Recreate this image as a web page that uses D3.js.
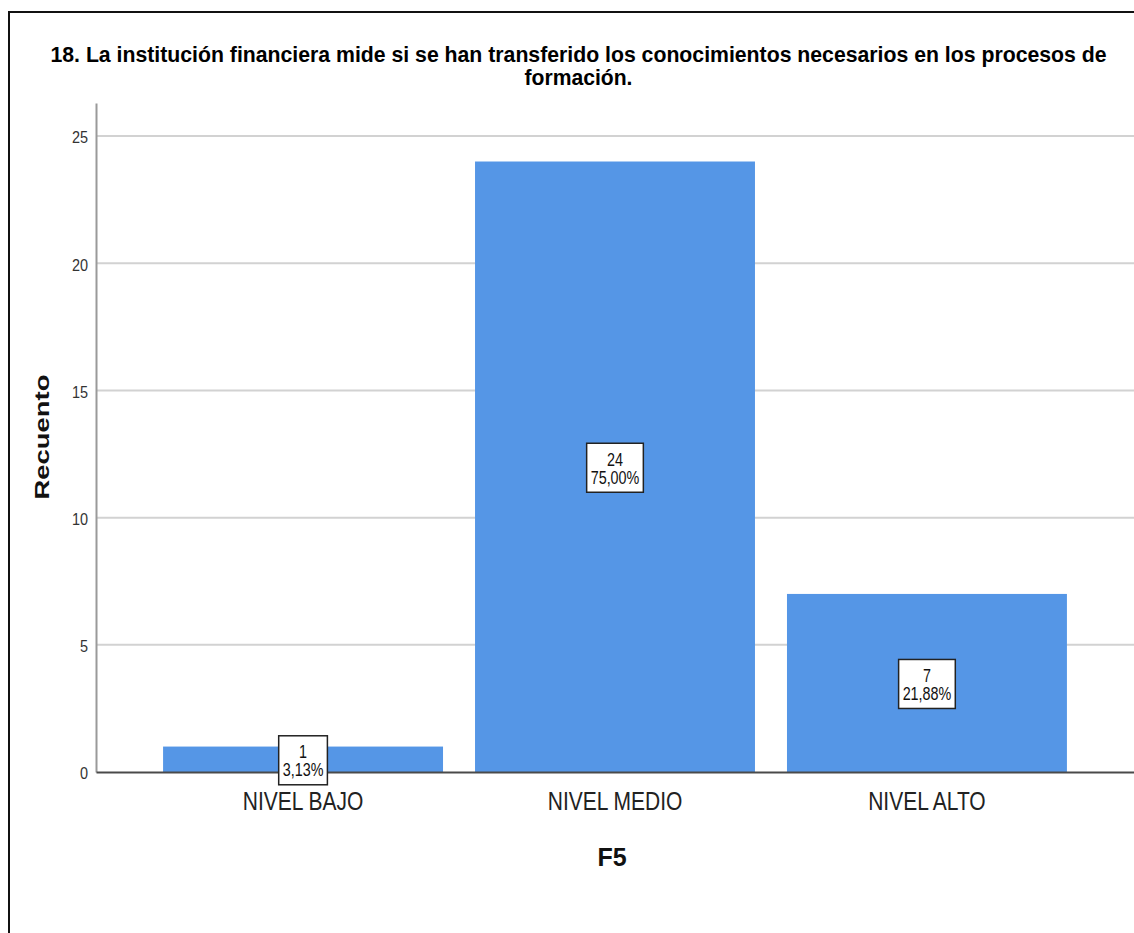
<!DOCTYPE html>
<html>
<head>
<meta charset="utf-8">
<script src="https://cdn.jsdelivr.net/npm/d3@7"></script>
<style>
  html, body { margin: 0; padding: 0; background: #ffffff; }
  svg { display: block; }
  .narrow { font-family: "Liberation Sans Narrow", "Arial Narrow", "Liberation Sans", Arial, sans-serif; }
</style>
</head>
<body>
<svg id="chart" width="1134" height="933"></svg>
<script>
// ---- data ----
const categories = ["NIVEL BAJO", "NIVEL MEDIO", "NIVEL ALTO"];
const counts = [1, 24, 7];
const percentLabels = ["3,13%", "75,00%", "21,88%"];
const yTicks = [0, 5, 10, 15, 20, 25];
const titleLines = [
  "18. La institución financiera mide si se han transferido los conocimientos necesarios en los procesos de",
  "formación."
];
const xAxisTitle = "F5";
const yAxisTitle = "Recuento";

// ---- layout ----
const svg = d3.select("#chart");
const W = 1134, H = 933;
const plotLeft = 96, plotRight = 1134, plotBottom = 772, plotTop = 103;

// compress text horizontally to imitate a condensed face
function squeeze(sel, f) {
  sel.each(function() {
    const n = this;
    const len = n.getComputedTextLength();
    d3.select(n).attr("textLength", len * f).attr("lengthAdjust", "spacingAndGlyphs");
  });
}

const x = d3.scaleBand()
  .domain(categories)
  .range([plotLeft, plotRight])
  .paddingInner(0.1026)
  .paddingOuter(0.215);

const y = d3.scaleLinear()
  .domain([0, 26.3])
  .range([plotBottom, plotTop]);

// outer frame
svg.append("rect")
  .attr("x", 9).attr("y", 12)
  .attr("width", W + 20).attr("height", H + 20)
  .attr("fill", "#ffffff")
  .attr("stroke", "#111").attr("stroke-width", 2);

// title (scaled horizontally to the reference's condensed width)
const titleWidths = [1057, 108];
titleLines.forEach((t, i) => {
  const g = svg.append("g");
  const txt = g.append("text")
    .attr("class", "narrow")
    .attr("text-anchor", "middle")
    .attr("font-size", 22)
    .attr("font-weight", "bold")
    .attr("fill", "#000")
    .text(t);
  const sx = titleWidths[i] / txt.node().getComputedTextLength();
  g.attr("transform", `translate(578.5,${62 + i * 23}) scale(${sx},1)`);
});

// gridlines
svg.append("g")
  .selectAll("line")
  .data(yTicks.filter(d => d > 0))
  .join("line")
  .attr("x1", plotLeft).attr("x2", plotRight)
  .attr("y1", d => y(d)).attr("y2", d => y(d))
  .attr("stroke", "#d2d2d2").attr("stroke-width", 2);

// y axis
const yAxis = d3.axisLeft(y).tickValues(yTicks).tickSize(0).tickPadding(8);
const yg = svg.append("g").attr("transform", `translate(${plotLeft},0)`).call(yAxis);
yg.select(".domain").attr("stroke", "#9a9a9a").attr("stroke-width", 2);
yg.selectAll("text")
  .attr("class", "narrow")
  .attr("font-size", 17)
  .attr("fill", "#333")
  .attr("dy", "0.4em");
squeeze(yg.selectAll("text"), 0.85);

// bars
svg.append("g")
  .selectAll("rect")
  .data(categories)
  .join("rect")
  .attr("x", d => x(d))
  .attr("y", (d, i) => y(counts[i]))
  .attr("width", x.bandwidth())
  .attr("height", (d, i) => y(0) - y(counts[i]))
  .attr("fill", "#5596e6");

// x axis
const xAxis = d3.axisBottom(x).tickSize(0).tickPadding(0);
const xg = svg.append("g").attr("transform", `translate(0,${plotBottom})`).call(xAxis);
xg.select(".domain").attr("stroke", "#4a4a4a").attr("stroke-width", 2);
xg.selectAll("text")
  .attr("class", "narrow")
  .attr("font-size", 25)
  .attr("fill", "#222")
  .attr("y", 38)
  .attr("dy", 0);
squeeze(xg.selectAll("text"), 0.84);

// value labels
const labels = svg.append("g")
  .selectAll("g")
  .data(categories)
  .join("g")
  .attr("transform", (d, i) => `translate(${x(d) + x.bandwidth() / 2},${y(counts[i] / 2)})`);

labels.each(function(d, i) {
  const g = d3.select(this);
  const box = g.append("rect");
  const t1 = g.append("text")
    .attr("class", "narrow")
    .attr("text-anchor", "middle")
    .attr("font-size", 17.5)
    .attr("fill", "#111")
    .attr("y", -1)
    .text(counts[i]);
  const t2 = g.append("text")
    .attr("class", "narrow")
    .attr("text-anchor", "middle")
    .attr("font-size", 17.5)
    .attr("fill", "#111")
    .attr("y", 17)
    .text(percentLabels[i]);
  squeeze(t1, 0.82);
  squeeze(t2, 0.82);
  const w = Math.max(+t1.attr("textLength"), +t2.attr("textLength")) + 8;
  box.attr("x", -w / 2).attr("y", -23.5)
    .attr("width", w).attr("height", 49)
    .attr("fill", "#ffffff")
    .attr("stroke", "#222").attr("stroke-width", 1.5);
});

// axis titles
svg.append("text")
  .attr("class", "narrow")
  .attr("x", 612).attr("y", 866)
  .attr("text-anchor", "middle")
  .attr("font-size", 25)
  .attr("font-weight", "bold")
  .attr("fill", "#111")
  .text(xAxisTitle);

svg.append("text")
  .attr("transform", "translate(49,437) rotate(-90)")
  .attr("x", -62.5)
  .attr("font-family", "'Liberation Sans', Arial, sans-serif")
  .attr("font-size", 21)
  .attr("font-weight", "bold")
  .attr("fill", "#111")
  .attr("textLength", 125)
  .attr("lengthAdjust", "spacingAndGlyphs")
  .text(yAxisTitle);
</script>
</body>
</html>
